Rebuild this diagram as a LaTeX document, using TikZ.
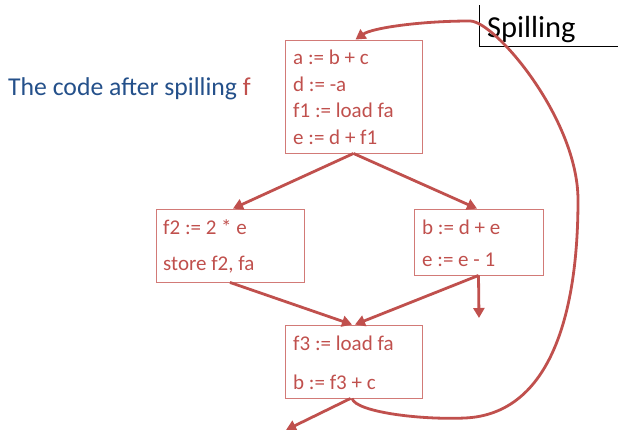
\documentclass[tikz,border=0pt]{standalone}
\usepackage{fontspec}
\setmainfont{Carlito}
\usetikzlibrary{arrows.meta}
\definecolor{cred}{HTML}{C0504D}
\definecolor{cbox}{HTML}{D27A77}
\definecolor{cblue}{HTML}{24508A}
\begin{document}
\begin{tikzpicture}[x=1pt,y=-1pt,
  box/.style={draw=cbox, line width=0.9pt, minimum width=#1, inner sep=0pt, rectangle},
  code/.style={anchor=west, text=cred, font=\fontsize{21}{24}\selectfont, inner sep=0pt},
  flow/.style={draw=cred, line width=2.8pt, -{Triangle[length=10pt,width=11pt]}},
]
\useasboundingbox (0,0) rectangle (618,429);
% title
\draw[line width=0.8pt] (479.5,5) -- (479.5,46) -- (618,46);
\node[anchor=base west, inner sep=0pt, font=\fontsize{30.5}{34}\selectfont] (title) at (487,37) {Spilling};
\node[anchor=base west, inner sep=0pt, font=\fontsize{25.7}{30}\selectfont, text=cblue] (sub) at (8,95) {The code after spilling \textcolor{cred}{f}};
% boxes
\node[box=137pt, minimum height=113pt] (B1) at (353.5,96.5) {};
\node[box=148pt, minimum height=73pt] (B2) at (230,245.5) {};
\node[box=129pt, minimum height=66pt] (B3) at (478.5,242) {};
\node[box=137pt, minimum height=73pt] (B4) at (353.5,361.5) {};
% code
\node[code] (a1) at (293,57) {a := b + c};
\node[code] (a2) at (293,84) {d := -a};
\node[code] (a3) at (293,110) {f1 := load fa};
\node[code] (a4) at (293,137) {e := d + f1};
\node[code] (b1) at (163,227) {f2 := 2 * e};
\node[code] (b2) at (163,265) {store f2, fa};
\node[code] (c1) at (422,227) {b := d + e};
\node[code] (c2) at (422,260) {e := e - 1};
\node[code] (d1) at (293,343) {f3 := load fa};
\node[code] (d2) at (293,382) {b := f3 + c};
% connectors
\coordinate (x1) at (479,318);
\coordinate (x2) at (286,430);
\draw[flow] (B1.south) -- ([xshift=3pt]B2.north);
\draw[flow] (B1.south) -- ([xshift=-1.5pt]B3.north);
\draw[flow] (B2.south) -- ([xshift=-1.5pt]B4.north);
\draw[flow] (B3.south) -- ([xshift=1.5pt]B4.north);
\draw[flow] (B3.south) -- (x1);
\draw[flow] ([xshift=-3pt]B4.south) -- (x2);
\draw[flow] ([xshift=-1.5pt]B4.south) .. controls (356,412) and (420,420) .. (465,418)
  .. controls (552,414) and (578,310) .. (578,200)
  .. controls (578,119) and (495,21) .. (470,21)
  .. controls (420,21) and (372,28) .. ([xshift=2pt]B1.north);
\end{tikzpicture}
\end{document}
